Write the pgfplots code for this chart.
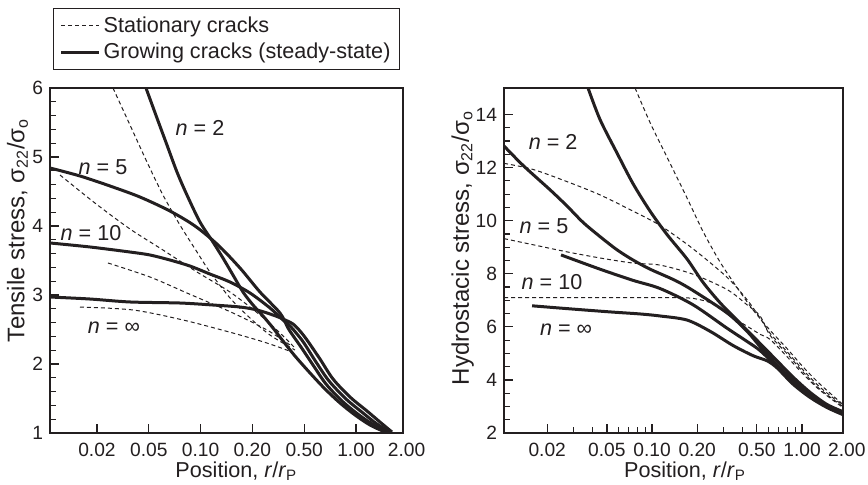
\documentclass[border=0pt]{standalone}
\usepackage{pgfplots}
\pgfplotsset{compat=1.18}
\usepackage{fontspec}
\setmainfont{Liberation Sans}
\definecolor{ink}{HTML}{231F20}
\newcommand\tk{\fontsize{9.6}{11}\selectfont}
\newcommand\lgd{\fontsize{10.8}{13}\selectfont}
\tikzset{lab/.style={font=\fontsize{10.8}{13}\selectfont, text=ink}}
\pgfplotsset{
  stat/.style={ink, line width=0.5pt, dash pattern=on 2pt off 1.5pt, smooth, tension=0.5},
  grow/.style={ink, line width=1.5pt, smooth, tension=0.5, line join=round},
  common/.style={
    scale only axis, anchor=south west, height=172.5pt,
    axis line style={ink, line width=0.7pt},
    tick style={ink, line width=0.6pt},
    tick align=inside, xtick pos=left, ytick pos=left,
    major tick length=4.5pt, minor tick length=3pt,
    /pgf/number format/assume math mode=true,
    tick label style={font=\tk, text=ink},
    xticklabel style={yshift=-1.5pt},
    extra x tick style={major tick length=0pt, xticklabel style={xshift=2pt}},
    xlabel style={font=\lgd, text=ink, anchor=base},
    ylabel style={font=\fontsize{12}{14}\selectfont, text=ink, anchor=center},
    legend image code/.code={\draw[##1] (0pt,0pt) -- (19pt,0pt);},
  },
}
\begin{document}
\begin{tikzpicture}
\useasboundingbox (0,0) rectangle (434pt,242pt);
% ---------------- left panel ----------------
\begin{axis}[common,
  at={(25pt,25.5pt)}, width=176.5pt,
  xmin=-0.907, xmax=5.907, ymin=1, ymax=6,
  xtick={0,1,2,3,4,5},
  xticklabels={\tk 0.02,\tk 0.05,\tk 0.10,\tk 0.20,\tk 0.50,\tk 1.00},
  extra x ticks={5.9}, extra x tick labels={\tk 2.00},
  ytick={1,2,3,4,5,6}, yticklabels={\tk 1,\tk 2,\tk 3,\tk 4,\tk 5,\tk 6},
  minor y tick num=4,
  xlabel={\lgd Position, \textit{r}/\textit{r}\textsubscript{P}},
  xlabel style={at={(axis description cs:0.528,0)}, yshift=-22pt},
  ylabel={Tensile stress, σ\textsubscript{22}/σ\textsubscript{o}},
  ylabel style={at={(axis description cs:-0.092,0.588)}},
  legend style={at={(0.0085,1.232)}, anchor=north west, draw=ink, line width=0.6pt,
    font=\lgd, text=ink, inner xsep=3pt, inner ysep=2.5pt,
    row sep=1pt, nodes={inner sep=1.5pt}},
  legend cell align=left,
]
% stationary n=2 (steep dashed)
\addplot[stat] coordinates {(0.309,6.0) (0.637,5.464) (0.965,4.928) (1.274,4.449) (1.602,4.014) (1.931,3.623) (2.181,3.333) (2.568,2.957) (2.954,2.667) (3.340,2.420) (3.822,2.203)};
\addlegendentry{\lgd Stationary cracks}
% growing n=2
\addplot[grow] coordinates {(0.946,6.00) (1.158,5.565) (1.351,5.174) (1.544,4.783) (1.737,4.449) (1.988,4.058) (2.239,3.768) (2.432,3.536) (2.625,3.290) (2.819,3.043) (3.012,2.855) (3.205,2.696) (3.398,2.522) (3.591,2.333) (3.822,2.116) (4.112,1.870) (4.402,1.638) (4.691,1.435) (4.981,1.261) (5.270,1.116) (5.560,1.014)};
\addlegendentry{\lgd Growing cracks (steady-state)}
% growing n=5
\addplot[grow, forget plot] coordinates {(-0.907,4.841) (-0.328,4.725) (0.251,4.580) (0.830,4.420) (1.409,4.217) (1.892,4.000) (2.336,3.725) (2.761,3.391) (3.147,3.043) (3.533,2.739) (3.687,2.522) (3.803,2.391) (3.938,2.246) (4.170,1.986) (4.421,1.710) (4.730,1.464) (5.058,1.261) (5.347,1.116) (5.618,1.014)};
% growing n=10
\addplot[grow, forget plot] coordinates {(-0.907,3.754) (-0.135,3.696) (0.637,3.623) (1.023,3.580) (1.409,3.507) (1.795,3.420) (2.181,3.304) (2.568,3.188) (2.954,3.029) (3.340,2.812) (3.591,2.638) (3.726,2.551) (3.861,2.435) (3.996,2.304) (4.228,2.029) (4.479,1.754) (4.807,1.493) (5.135,1.290) (5.405,1.130) (5.656,1.014)};
% growing n=inf
\addplot[grow, forget plot] coordinates {(-0.907,2.971) (-0.135,2.942) (0.637,2.899) (1.602,2.884) (2.239,2.855) (2.761,2.826) (3.089,2.783) (3.398,2.710) (3.591,2.652) (3.784,2.580) (3.919,2.478) (4.054,2.348) (4.305,2.072) (4.556,1.783) (4.884,1.522) (5.212,1.319) (5.463,1.159) (5.695,1.014)};
% stationary n=5
\addplot[stat, forget plot] coordinates {(-0.714,4.739) (-0.039,4.333) (0.637,3.957) (1.274,3.652) (1.931,3.333) (2.568,3.043) (3.147,2.710) (3.533,2.449) (3.822,2.232)};
% stationary n=10
\addplot[stat, forget plot] coordinates {(0.212,3.464) (1.023,3.261) (1.737,3.029) (2.625,2.739) (3.282,2.493) (3.726,2.275)};
% stationary n=inf
\addplot[stat, forget plot] coordinates {(-0.328,2.826) (0.695,2.783) (1.660,2.638) (2.625,2.449) (3.282,2.304) (3.764,2.174)};
\node[lab] at (axis cs:1.988,5.42) {\textit{n} = 2};
\node[lab] at (axis cs:0.116,4.855) {\textit{n} = 5};
\node[lab] at (axis cs:-0.116,3.90) {\textit{n} = 10};
\node[lab] at (axis cs:0.328,2.52) {\textit{n} = ∞};
\end{axis}
% ---------------- right panel ----------------
\begin{axis}[common,
  at={(252pt,25.5pt)}, width=169.5pt,
  xmode=log, xmin=0.0103, xmax=1.876, ymin=2, ymax=15,
  xtick={0.02,0.05,0.1,0.2,0.5,1},
  xticklabels={\tk 0.02,\tk 0.05,\tk 0.10,\tk 0.20,\tk 0.50,\tk 1.00},
  extra x ticks={1.87}, extra x tick labels={\tk 2.00},
  minor xtick={0.03,0.04,0.06,0.07,0.08,0.09,0.3,0.4,0.6,0.7,0.8,0.9},
  ytick={2,4,6,8,10,12,14}, yticklabels={\tk 2,\tk 4,\tk 6,\tk 8,\tk 10,\tk 12,\tk 14},
  minor y tick num=3,
  xlabel={\lgd Position, \textit{r}/\textit{r}\textsubscript{P}},
  xlabel style={at={(axis description cs:0.534,0)}, yshift=-22pt},
  ylabel={Hydrostacic stress, σ\textsubscript{22}/σ\textsubscript{o}},
  ylabel style={at={(axis description cs:-0.122,0.536)}},
]
% steep dashed
\addplot[stat] coordinates {(0.07705,15.0) (0.09705,13.695) (0.1259,12.391) (0.1711,10.857) (0.2188,9.592) (0.2841,8.442) (0.3687,7.483) (0.4714,6.640) (0.6119,5.873) (0.7943,5.183) (1.0155,4.492) (1.3183,3.840) (1.8761,3.074)};
% dashed arc from 12.1
\addplot[stat] coordinates {(0.01031,12.161) (0.0161,11.931) (0.02713,11.471) (0.045,10.972) (0.0747,10.359) (0.113,9.822) (0.1877,8.940) (0.3162,7.867) (0.4299,7.023) (0.5248,6.333) (0.6119,5.758) (0.7943,5.067) (1.0155,4.377) (1.3183,3.725) (1.8761,3.035)};
% dashed from 9.3
\addplot[stat] coordinates {(0.01031,9.324) (0.0161,9.094) (0.02713,8.825) (0.045,8.595) (0.0747,8.403) (0.113,8.327) (0.1877,7.982) (0.3162,7.406) (0.4299,6.831) (0.5248,6.410) (0.6119,5.681) (0.7943,4.991) (1.0155,4.301) (1.3183,3.649) (1.8761,2.997)};
% dashed from 7.1
\addplot[stat] coordinates {(0.01031,7.100) (0.045,7.100) (0.1537,7.100) (0.2089,7.023) (0.263,6.831) (0.3311,6.410) (0.4299,6.026) (0.5248,5.719) (0.6119,5.528) (0.7943,4.876) (1.0155,4.224) (1.3183,3.610) (1.8761,2.959)};
% steep solid
\addplot[grow] coordinates {(0.03743,15.0) (0.045,13.81) (0.05845,12.545) (0.0747,11.394) (0.09705,10.359) (0.1259,9.477) (0.1711,8.557) (0.2188,7.675) (0.2841,6.908) (0.3687,6.256) (0.4714,5.643) (0.5845,5.106) (0.6813,4.722) (0.8710,4.109) (1.1306,3.534) (1.4678,3.074) (1.8761,2.805)};
% solid from 12.8
\addplot[grow] coordinates {(0.01031,12.813) (0.0138,12.084) (0.02089,11.164) (0.02713,10.551) (0.03467,9.937) (0.045,9.400) (0.05845,8.902) (0.0747,8.518) (0.09705,8.173) (0.1424,7.752) (0.1877,7.368) (0.3162,6.525) (0.4299,5.834) (0.5248,5.259) (0.6813,4.569) (0.8710,3.994) (1.1306,3.457) (1.4678,3.035) (1.8761,2.767)};
% solid from 8.7
\addplot[grow] coordinates {(0.02473,8.710) (0.045,8.173) (0.0747,7.752) (0.113,7.445) (0.1877,6.831) (0.3162,5.949) (0.4299,5.451) (0.5248,5.106) (0.6813,4.492) (0.8710,3.917) (1.1306,3.380) (1.4678,2.997) (1.8761,2.729)};
% solid from 6.8
\addplot[grow] coordinates {(0.01585,6.793) (0.02841,6.678) (0.05248,6.563) (0.08318,6.486) (0.113,6.410) (0.1711,6.256) (0.2436,5.834) (0.3467,5.298) (0.4714,4.914) (0.5845,4.722) (0.6813,4.454) (0.8710,3.840) (1.1306,3.342) (1.4678,2.959) (1.8761,2.690)};
\node[lab] at (axis cs:0.02188,12.966) {\textit{n} = 2};
\node[lab] at (axis cs:0.01905,9.784) {\textit{n} = 5};
\node[lab] at (axis cs:0.02154,7.675) {\textit{n} = 10};
\node[lab] at (axis cs:0.02673,5.911) {\textit{n} = ∞};
\end{axis}
\end{tikzpicture}
\end{document}
